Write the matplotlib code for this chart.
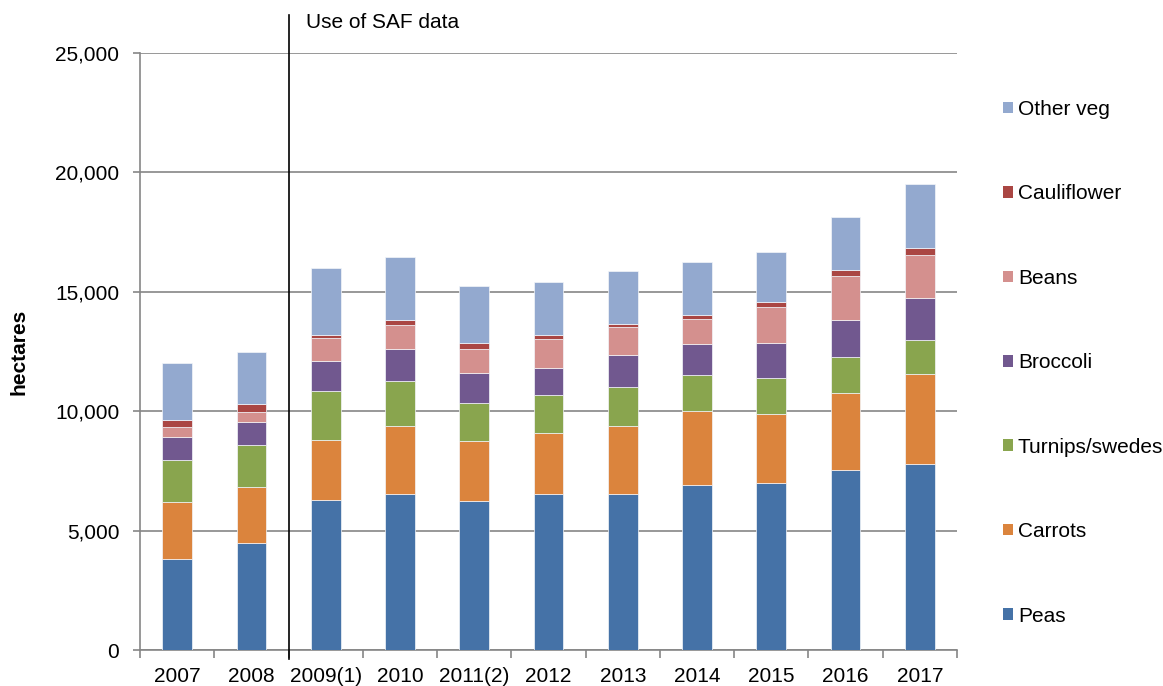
import numpy as np
import matplotlib.pyplot as plt
from matplotlib.patches import Patch
from matplotlib.ticker import FuncFormatter

years = ["2007", "2008", "2009(1)", "2010", "2011(2)", "2012", "2013", "2014", "2015", "2016", "2017"]

peas        = [3800, 4470, 6290, 6530, 6250, 6550, 6550, 6910, 7010, 7520, 7800]
carrots     = [2380, 2340, 2490, 2860, 2490, 2520, 2840, 3080, 2890, 3260, 3740]
turnips     = [1780, 1770, 2050, 1890, 1590, 1600, 1620, 1540, 1480, 1490, 1430]
broccoli    = [970, 980, 1270, 1320, 1280, 1150, 1340, 1300, 1490, 1570, 1780]
beans       = [400, 420, 950, 1020, 990, 1200, 1160, 1020, 1490, 1810, 1780]
cauliflower = [300, 330, 140, 200, 260, 170, 140, 180, 200, 280, 300]
other_veg   = [2390, 2160, 2790, 2640, 2370, 2210, 2230, 2210, 2090, 2200, 2700]

series = [
    ("Peas", peas, "#4572A7"),
    ("Carrots", carrots, "#DB843D"),
    ("Turnips/swedes", turnips, "#89A54E"),
    ("Broccoli", broccoli, "#71588F"),
    ("Beans", beans, "#D4908E"),
    ("Cauliflower", cauliflower, "#AA4643"),
    ("Other veg", other_veg, "#93A9CF"),
]

plt.rcParams['font.family'] = ['Liberation Sans', 'DejaVu Sans']
FS = 15

fig = plt.figure(figsize=(11.63, 6.86), dpi=100)
ax = fig.add_axes([140/1163, 1-650/686, 817/1163, 597/686])

x = np.arange(len(years))
bottom = np.zeros(len(years))
for name, vals, col in series:
    ax.bar(x, vals, 0.4, bottom=bottom, color=col, edgecolor="#f4f6fa", linewidth=0.5, zorder=3)
    bottom += np.array(vals)

ax.set_xlim(-0.5, len(years) - 0.5)
ax.set_ylim(0, 25000)
ax.set_yticks(np.arange(0, 25001, 5000))
ax.yaxis.set_major_formatter(FuncFormatter(lambda v, p: f"{int(v):,}"))
ax.grid(axis="y", color="#868686", linewidth=1.2, zorder=0)
ax.tick_params(axis="y", length=5, width=1.2, color="#868686", labelsize=FS, pad=10)

ax.set_xticks(x)
ax.set_xticklabels(years)
ax.tick_params(axis="x", length=0, labelsize=FS, pad=12)
ax.set_xticks(np.arange(-0.5, len(years)), minor=True)
ax.tick_params(axis="x", which="minor", length=6, color="#868686", width=1.2)

for s in ["top", "right"]:
    ax.spines[s].set_visible(False)
for s in ["left", "bottom"]:
    ax.spines[s].set_color("#868686")
    ax.spines[s].set_linewidth(1.2)

ax.set_ylabel("hectares", fontsize=FS, fontweight="bold", labelpad=19)

# SAF data divider
ax.plot([1.5, 1.5], [-380, 26590], color="black", linewidth=1.2, clip_on=False, zorder=4)
ax.text(1.73, 26270, "Use of SAF data", fontsize=FS, va="center", ha="left")

handles = [Patch(facecolor=c, edgecolor="none") for _, _, c in series][::-1]
labels = [n for n, _, _ in series][::-1]
fig.legend(handles, labels, loc="upper left", bbox_to_anchor=(1003/1163, 1-100/686),
           frameon=False, fontsize=FS, handlelength=0.48, handleheight=0.48,
           handletextpad=0.24, labelspacing=3.14, borderpad=0, borderaxespad=0)

fig.savefig("out.png", dpi=100)
